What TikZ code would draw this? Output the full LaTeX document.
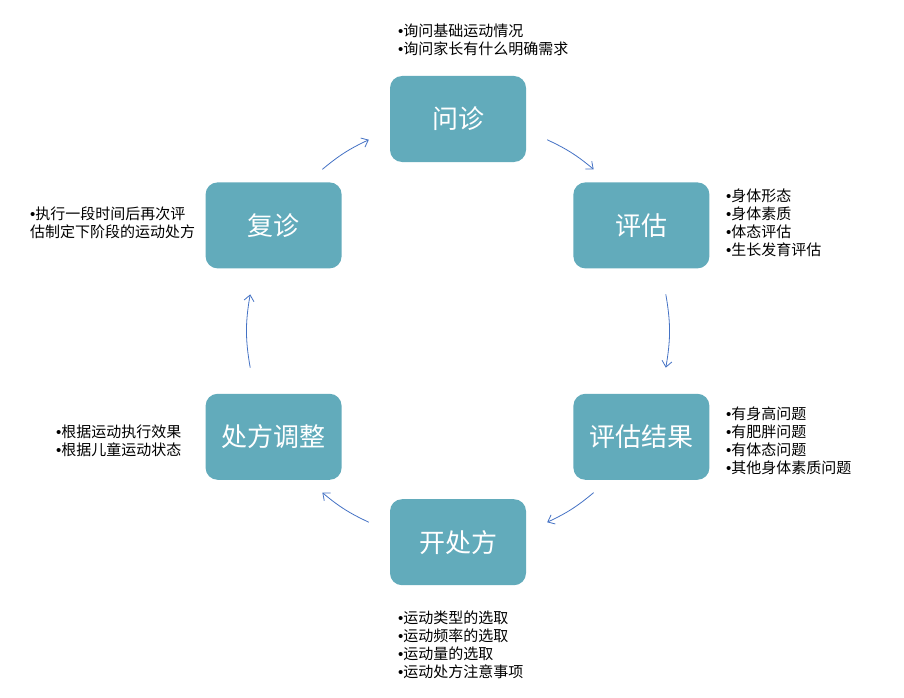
\documentclass[tikz,border=0pt]{standalone}
\usepackage{fontspec}
\setmainfont{Noto Sans CJK SC}
\newfontfamily\latinfont{Liberation Sans}
\newcommand\bul{{\latinfont •}}
\usepackage{tikz}
\usetikzlibrary{positioning,arrows.meta}
\definecolor{boxteal}{RGB}{98,171,187}
\definecolor{arrowblue}{RGB}{68,114,196}

\begin{document}
\begin{tikzpicture}[x=1pt, y=1pt,
    stepbox/.style={rectangle, rounded corners=12pt, fill=boxteal, draw=none, text=white, minimum width=136pt, minimum height=86pt, inner sep=0pt, font=\fontsize{26}{30}\selectfont},
    note/.style={anchor=north west, align=left, inner sep=0pt, font=\fontsize{15}{18}\selectfont},
    flow/.style={draw=arrowblue, line width=0.8pt, -{Straight Barb[length=6pt, width=10pt]}}]
        \useasboundingbox (0,0) rectangle (904,-698);
        % Nodes
        \node[stepbox] (wenzhen) at (458,-119) {问诊};
        \node[stepbox] (pinggu) [below right=20pt and 47pt of wenzhen.south east, anchor=north west] {评估};
        \node[stepbox] (jieguo) [below=125pt of pinggu] {评估结果};
        \node[stepbox] (kaifang) [below left=19pt and 47pt of jieguo.south west, anchor=north east] {开处方};
        \node[stepbox] (tiaozheng) [above left=19pt and 48pt of kaifang.north west, anchor=south east] {处方调整};
        \node[stepbox] (fuzhen) [above=125pt of tiaozheng] {复诊};

        % Notes
        \node[note] (n1) at (398,-24) {\bul 询问基础运动情况\\\bul 询问家长有什么明确需求};
        \node[note] (n2) at (726,-189) {\bul 身体形态\\\bul 身体素质\\\bul 体态评估\\\bul 生长发育评估};
        \node[note] (n3) at (726,-407) {\bul 有身高问题\\\bul 有肥胖问题\\\bul 有体态问题\\\bul 其他身体素质问题};
        \node[note] (n4) at (398,-611) {\bul 运动类型的选取\\\bul 运动频率的选取\\\bul 运动量的选取\\\bul 运动处方注意事项};
        \node[note] (n5) at (56,-425) {\bul 根据运动执行效果\\\bul 根据儿童运动状态};
        \node[note] (n6) at (30,-207) {\bul 执行一段时间后再次评\\估制定下阶段的运动处方};

        % Arrow ends on the ring
        \coordinate (o) at (458,-331);
        \coordinate (a1) at ([shift={(65:211)}]o);
        \coordinate (b1) at ([shift={(50:211)}]o);
        \coordinate (a2) at ([shift={(10:211)}]o);
        \coordinate (b2) at ([shift={(-10:211)}]o);
        \coordinate (a3) at ([shift={(-50:211)}]o);
        \coordinate (b3) at ([shift={(-65:211)}]o);
        \coordinate (a4) at ([shift={(-115:211)}]o);
        \coordinate (b4) at ([shift={(-130:211)}]o);
        \coordinate (a5) at ([shift={(190:211)}]o);
        \coordinate (b5) at ([shift={(170:211)}]o);
        \coordinate (a6) at ([shift={(130:211)}]o);
        \coordinate (b6) at ([shift={(115:211)}]o);

        % Edges
        \draw[flow] (a1) to[bend left=7.5] (b1);
        \draw[flow] (a2) to[bend left=10] (b2);
        \draw[flow] (a3) to[bend left=7.5] (b3);
        \draw[flow] (a4) to[bend left=7.5] (b4);
        \draw[flow] (a5) to[bend left=10] (b5);
        \draw[flow] (a6) to[bend left=7.5] (b6);
    \end{tikzpicture}
\end{document}
